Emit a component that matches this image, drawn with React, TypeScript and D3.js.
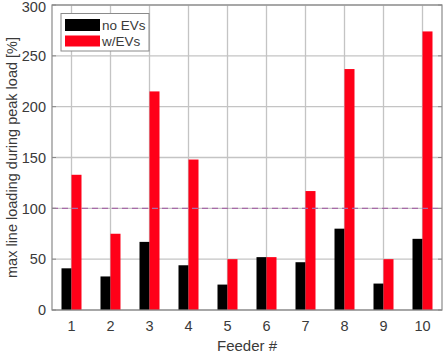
import React from "react";
import * as d3 from "d3";

const feeders = ["1", "2", "3", "4", "5", "6", "7", "8", "9", "10"];
const noEVs = [41, 33, 67, 44, 25, 52, 47, 80, 26, 70];
const withEVs = [133, 75, 215, 148, 50, 52, 117, 237, 50, 274];
const yTicks = [0, 50, 100, 150, 200, 250, 300];
const limitLine = 100;

const W = 443;
const H = 358;
const margin = { left: 52, right: 1, top: 5, bottom: 48 };
const font = "Arial, 'Liberation Sans', sans-serif";
const textColor = "#3a3a3a";

export default function App() {
  const x = d3
    .scaleBand<string>()
    .domain(feeders)
    .range([margin.left, W - margin.right])
    .padding(0);
  const y = d3
    .scaleLinear()
    .domain([0, 300])
    .range([H - margin.bottom, margin.top]);
  const barW = 10;
  const x0 = margin.left;
  const x1 = W - margin.right;
  const y0 = y(0);
  const yTop = y(300);

  return (
    <svg
      width={W}
      height={H}
      style={{ position: "absolute", left: 0, top: 0, background: "#fff" }}
      fontFamily={font}
    >
      {/* grid */}
      {yTicks.map((t) => (
        <line key={"gy" + t} x1={x0} x2={x1} y1={y(t)} y2={y(t)} stroke="#c4c4c4" strokeWidth={1.3} />
      ))}
      {feeders.map((f) => {
        const cx = x(f)! + x.bandwidth() / 2;
        return <line key={"gx" + f} x1={cx} x2={cx} y1={yTop} y2={y0} stroke="#c4c4c4" strokeWidth={1.3} />;
      })}
      {/* bars */}
      {feeders.map((f, i) => {
        const cx = x(f)! + x.bandwidth() / 2;
        return (
          <g key={"b" + f}>
            <rect x={cx - barW} y={y(noEVs[i])} width={barW} height={y0 - y(noEVs[i])} fill="#000" />
            <rect x={cx} y={y(withEVs[i])} width={barW} height={y0 - y(withEVs[i])} fill="#ff0018" />
          </g>
        );
      })}
      {/* 100% limit */}
      <line
        x1={x0}
        x2={x1}
        y1={y(limitLine)}
        y2={y(limitLine)}
        stroke="#a86aa8"
        strokeWidth={1.2}
        strokeDasharray="6,4"
      />
      {/* frame */}
      <rect x={x0} y={yTop} width={x1 - x0} height={y0 - yTop} fill="none" stroke="#8a8a8a" strokeWidth={1.2} />
      {/* y ticks */}
      {yTicks.map((t) => (
        <g key={"ty" + t}>
          <line x1={x0} x2={x0 + 4} y1={y(t)} y2={y(t)} stroke="#8a8a8a" />
          <line x1={x1 - 4} x2={x1} y1={y(t)} y2={y(t)} stroke="#8a8a8a" />
          <text x={x0 - 6} y={Math.max(y(t), 6.5)} dy="0.36em" textAnchor="end" fontSize={14.5} fill={textColor}>
            {t}
          </text>
        </g>
      ))}
      {/* x ticks */}
      {feeders.map((f) => {
        const cx = x(f)! + x.bandwidth() / 2;
        return (
          <text key={"tx" + f} x={cx} y={y0 + 21} textAnchor="middle" fontSize={14.5} fill={textColor}>
            {f}
          </text>
        );
      })}
      <text x={(x0 + x1) / 2} y={y0 + 41} textAnchor="middle" fontSize={15} fill={textColor}>
        Feeder #
      </text>
      <text
        transform={`translate(17,${(yTop + y0) / 2}) rotate(-90)`}
        textAnchor="middle"
        fontSize={14.5}
        fill={textColor}
      >
        max line loading during peak load [%]
      </text>
      {/* legend */}
      <g>
        <rect x={61} y={13.5} width={88} height={37.5} fill="#fff" stroke="#8a8a8a" strokeWidth={1} />
        <rect x={65} y={19} width={35} height={12} fill="#000" />
        <rect x={65} y={35.5} width={35} height={11} fill="#ff0018" />
        <text x={102} y={30} fontSize={13.5} fill={textColor}>no EVs</text>
        <text x={102} y={46} fontSize={13.5} fill={textColor}>w/EVs</text>
      </g>
    </svg>
  );
}
